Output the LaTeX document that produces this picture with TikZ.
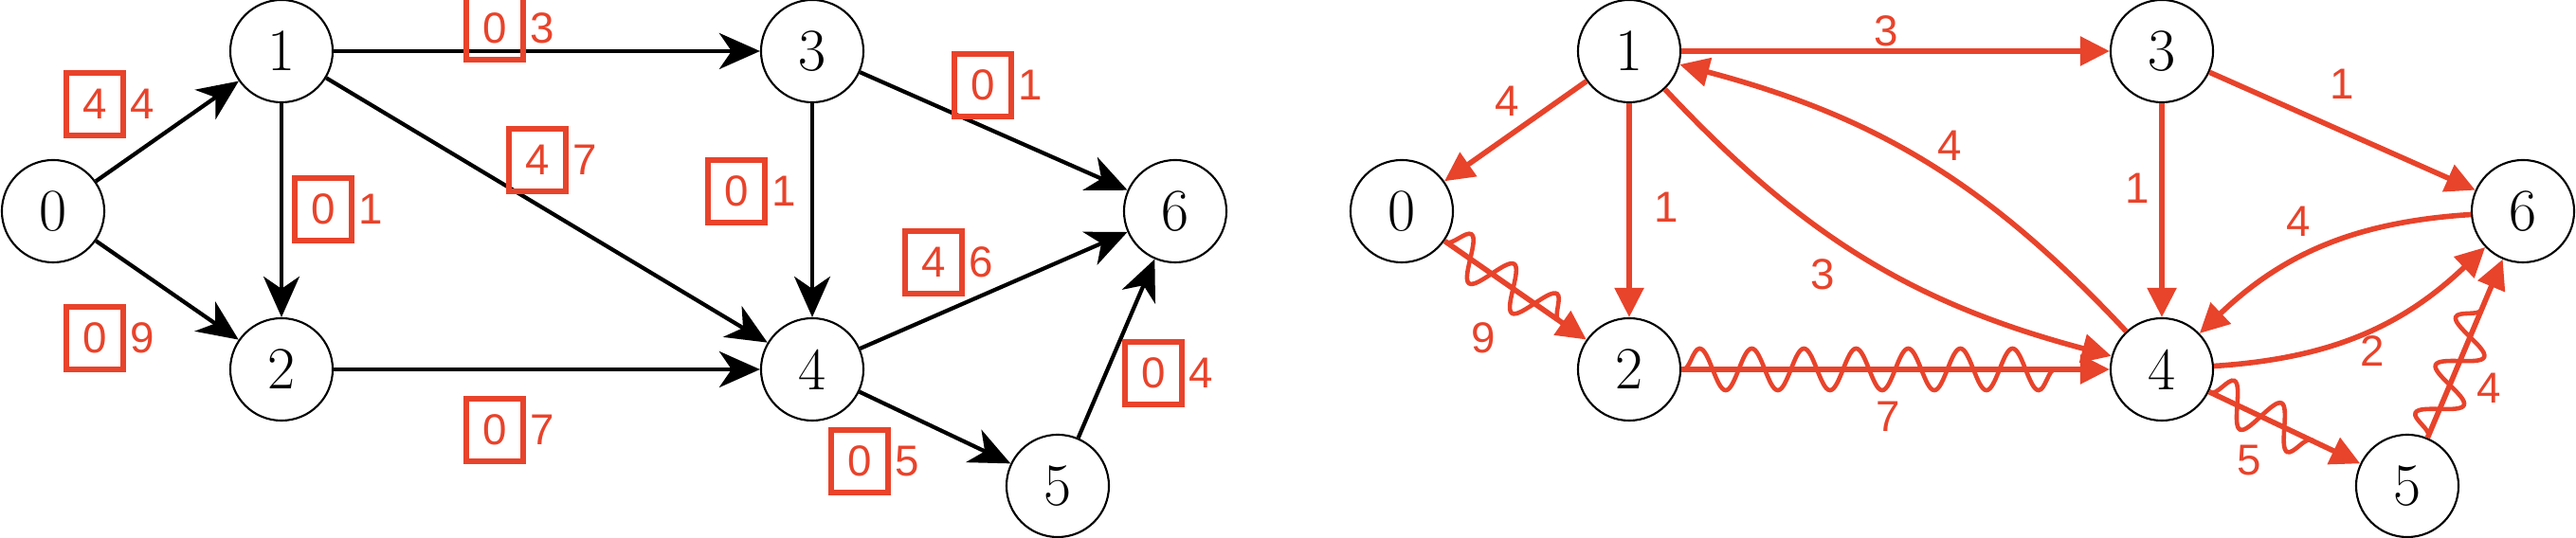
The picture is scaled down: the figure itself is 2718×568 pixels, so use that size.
\documentclass[tikz,border=0pt]{standalone}
\usepackage{fontspec}
\newfontfamily\labfont{Liberation Sans}
\usetikzlibrary{arrows.meta,decorations.pathmorphing,positioning}
\definecolor{accent}{HTML}{E8432B}

\begin{document}
\begin{tikzpicture}[
    x=0.01cm,
    y=-0.01cm,
    vertex/.style={circle, draw, line width=0.6pt, minimum size=1.08cm, inner sep=0pt, font=\fontsize{18}{18}\selectfont},
    bedge/.style={line width=1.2pt, -{Stealth[length=0.43cm,width=0.38cm,inset=0.13cm]}},
    redge/.style={accent, line width=1.6pt, -{Triangle[length=0.31cm,width=0.3cm]}},
    wiggle/.style={accent, line width=1.3pt, decorate, decoration={snake, amplitude=0.22cm, segment length=0.55cm, pre=moveto, pre length=0.02cm, post=moveto, post length=0.35cm}},
    markbox/.style={draw=accent, line width=1.6pt, minimum width=0.595cm, minimum height=0.665cm, inner sep=0pt, outer sep=0pt, text=accent, font=\labfont\fontsize{13}{13}\selectfont},
    weight/.style={text=accent, inner sep=0pt, font=\labfont\fontsize{13}{13}\selectfont}
  ]
  \useasboundingbox (0,0) rectangle (2718,568);

  \node[vertex] (l0) at (56,223) {0};
  \node[vertex] (l1) at (297,54) {1};
  \node[vertex] (l2) at (297,390) {2};
  \node[vertex] (l3) at (857,54) {3};
  \node[vertex] (l4) at (857,390) {4};
  \node[vertex] (l5) at (1116,513) {5};
  \node[vertex] (l6) at (1240,223) {6};

  \draw[bedge] (l0) -- (l1);
  \draw[bedge] (l0) -- (l2);
  \draw[bedge] (l1) -- (l2);
  \draw[bedge] (l1) -- (l3);
  \draw[bedge] (l1) -- (l4);
  \draw[bedge] (l2) -- (l4);
  \draw[bedge] (l3) -- (l4);
  \draw[bedge] (l3) -- (l6);
  \draw[bedge] (l4) -- (l6);
  \draw[bedge] (l4) -- (l5);
  \draw[bedge] (l5) -- (l6);

  \node[markbox] (b01) at (100,110) {4};
  \node[weight, right=0.07cm of b01] (w01) {4};
  \node[markbox] (b13) at (522,30) {0};
  \node[weight, right=0.07cm of b13] (w13) {3};
  \node[markbox] (b12) at (341,221) {0};
  \node[weight, right=0.07cm of b12] (w12) {1};
  \node[markbox] (b14) at (567,169) {4};
  \node[weight, right=0.07cm of b14] (w14) {7};
  \node[markbox] (b02) at (100,357) {0};
  \node[weight, right=0.07cm of b02] (w02) {9};
  \node[markbox] (b24) at (522,454) {0};
  \node[weight, right=0.07cm of b24] (w24) {7};
  \node[markbox] (b34) at (777,202) {0};
  \node[weight, right=0.07cm of b34] (w34) {1};
  \node[markbox] (b36) at (1037,90) {0};
  \node[weight, right=0.07cm of b36] (w36) {1};
  \node[markbox] (b46) at (985,277) {4};
  \node[weight, right=0.07cm of b46] (w46) {6};
  \node[markbox] (b45) at (907,487) {0};
  \node[weight, right=0.07cm of b45] (w45) {5};
  \node[markbox] (b56) at (1217,394) {0};
  \node[weight, right=0.07cm of b56] (w56) {4};

  \node[vertex] (r0) at (1479,223) {0};
  \node[vertex] (r1) at (1719,54) {1};
  \node[vertex] (r2) at (1719,390) {2};
  \node[vertex] (r3) at (2281,54) {3};
  \node[vertex] (r4) at (2281,390) {4};
  \node[vertex] (r5) at (2540,513) {5};
  \node[vertex] (r6) at (2662,223) {6};

  \draw[redge] (r1) -- (r3);
  \draw[redge] (r1) -- (r0);
  \draw[redge] (r1) -- (r2);
  \draw[redge] (r1) to[bend right=16] (r4);
  \draw[redge] (r4) to[bend right=16] (r1);
  \draw[redge] (r3) -- (r4);
  \draw[redge] (r3) -- (r6);
  \draw[redge] (r6) to[bend right=20] (r4);
  \draw[redge] (r4) to[bend right=20] (r6);
  \draw[redge] (r0) -- (r2);
  \draw[wiggle] (r0) -- (r2);
  \draw[redge] (r2) -- (r4);
  \draw[wiggle] (r2) -- (r4);
  \draw[redge] (r4) -- (r5);
  \draw[wiggle] (r4) -- (r5);
  \draw[redge] (r5) -- (r6);
  \draw[wiggle] (r5) -- (r6);

  \node[weight] (q13) at (1990,33) {3};
  \node[weight] (q10) at (1590,107) {4};
  \node[weight] (q12) at (1758,219) {1};
  \node[weight] (q14) at (1923,290) {3};
  \node[weight] (q41) at (2057,154) {4};
  \node[weight] (q34) at (2255,199) {1};
  \node[weight] (q36) at (2471,89) {1};
  \node[weight] (q64) at (2425,234) {4};
  \node[weight] (q46) at (2503,371) {2};
  \node[weight] (q02) at (1565,357) {9};
  \node[weight] (q24) at (1992,440) {7};
  \node[weight] (q45) at (2373,486) {5};
  \node[weight] (q56) at (2626,410) {4};
\end{tikzpicture}
\end{document}
